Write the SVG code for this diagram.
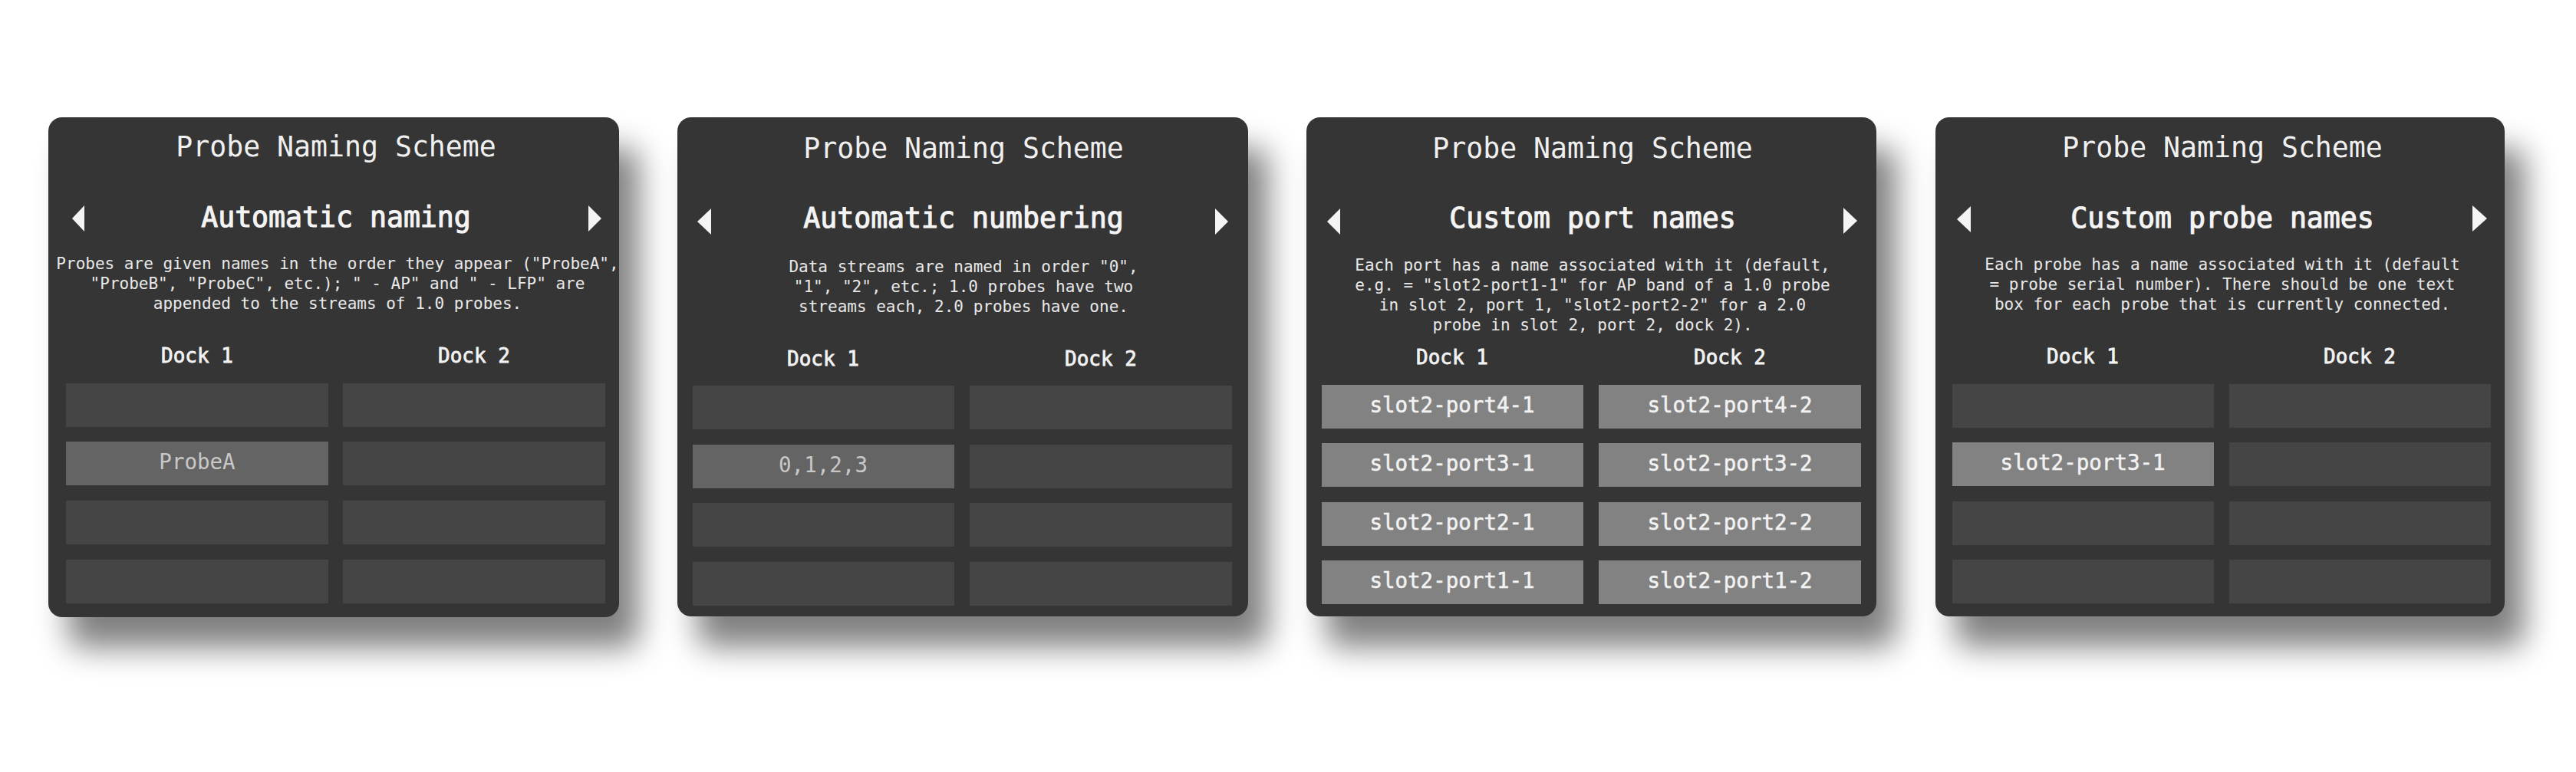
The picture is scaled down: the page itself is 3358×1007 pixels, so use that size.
<svg xmlns="http://www.w3.org/2000/svg" width="3358" height="1007" viewBox="0 0 3358 1007">
<style>
text{font-family:"DejaVu Sans Mono","Liberation Mono",monospace;text-anchor:middle}
.panel{fill:#363636}
.title{font-size:36.5px;fill:#f0f0f0}
.sub{font-size:36.5px;fill:#f4f4f4;stroke:#f4f4f4;stroke-width:1.1px}
.desc{font-size:21px;fill:#e8e8e8}
.dock{font-size:26px;fill:#f2f2f2;stroke:#f2f2f2;stroke-width:0.8px}
.box{fill:#454545}
.sel{fill:#646464}
.port{fill:#828282}
.t1{font-size:27.5px;fill:#c8c8c8}
.t2{font-size:27.5px;fill:#f2f2f2;stroke:#f2f2f2;stroke-width:0.5px}
.arrow{fill:#f4f4f4}
</style>
<defs>
<filter id="sh" x="-20%" y="-20%" width="150%" height="150%">
<feGaussianBlur in="SourceAlpha" stdDeviation="20"/>
<feOffset dx="26" dy="40" result="b"/>
<feComponentTransfer><feFuncA type="linear" slope="0.5"/></feComponentTransfer>
<feMerge><feMergeNode/><feMergeNode in="SourceGraphic"/></feMerge>
</filter>
</defs>
<rect width="3358" height="1007" fill="#ffffff"/>

<g id="panel-automatic-naming">
<rect class="panel" x="63" y="153" width="744" height="652" rx="18" filter="url(#sh)"/>
<text class="title" x="438" y="204">Probe Naming Scheme</text>
<polygon class="arrow" points="110,268 110,302 94,285"/>
<text class="sub" x="438" y="296">Automatic naming</text>
<polygon class="arrow" points="767,268 767,302 784,285"/>
<text class="desc" x="440" y="351">Probes are given names in the order they appear ("ProbeA",</text>
<text class="desc" x="440" y="377">"ProbeB", "ProbeC", etc.); " - AP" and " - LFP" are</text>
<text class="desc" x="440" y="403">appended to the streams of 1.0 probes.</text>
<text class="dock" x="257" y="473">Dock 1</text>
<text class="dock" x="618" y="473">Dock 2</text>
<rect class="box" x="86" y="500" width="342" height="57"/>
<rect class="box" x="447" y="500" width="342" height="57"/>
<rect class="sel" x="86" y="576" width="342" height="57"/>
<text class="t1" x="257" y="612">ProbeA</text>
<rect class="box" x="447" y="576" width="342" height="57"/>
<rect class="box" x="86" y="653" width="342" height="57"/>
<rect class="box" x="447" y="653" width="342" height="57"/>
<rect class="box" x="86" y="730" width="342" height="57"/>
<rect class="box" x="447" y="730" width="342" height="57"/>
</g>

<g id="panel-automatic-numbering">
<rect class="panel" x="883" y="153" width="744" height="651" rx="18" filter="url(#sh)"/>
<text class="title" x="1256" y="206">Probe Naming Scheme</text>
<polygon class="arrow" points="927,272 927,306 909,289"/>
<text class="sub" x="1256" y="297">Automatic numbering</text>
<polygon class="arrow" points="1584,272 1584,306 1601,289"/>
<text class="desc" x="1256" y="355">Data streams are named in order "0",</text>
<text class="desc" x="1256" y="381">"1", "2", etc.; 1.0 probes have two</text>
<text class="desc" x="1256" y="407">streams each, 2.0 probes have one.</text>
<text class="dock" x="1073" y="477">Dock 1</text>
<text class="dock" x="1435" y="477">Dock 2</text>
<rect class="box" x="903" y="503" width="341" height="57"/>
<rect class="box" x="1264" y="503" width="342" height="57"/>
<rect class="sel" x="903" y="580" width="341" height="57"/>
<text class="t1" x="1073" y="616">0,1,2,3</text>
<rect class="box" x="1264" y="580" width="342" height="57"/>
<rect class="box" x="903" y="656" width="341" height="57"/>
<rect class="box" x="1264" y="656" width="342" height="57"/>
<rect class="box" x="903" y="733" width="341" height="57"/>
<rect class="box" x="1264" y="733" width="342" height="57"/>
</g>

<g id="panel-custom-port-names">
<rect class="panel" x="1703" y="153" width="743" height="651" rx="18" filter="url(#sh)"/>
<text class="title" x="2076" y="206">Probe Naming Scheme</text>
<polygon class="arrow" points="1747,272 1747,306 1730,289"/>
<text class="sub" x="2076" y="297">Custom port names</text>
<polygon class="arrow" points="2403,271 2403,305 2421,288"/>
<text class="desc" x="2076" y="353">Each port has a name associated with it (default,</text>
<text class="desc" x="2076" y="379">e.g. = "slot2-port1-1" for AP band of a 1.0 probe</text>
<text class="desc" x="2076" y="405">in slot 2, port 1, "slot2-port2-2" for a 2.0</text>
<text class="desc" x="2076" y="431">probe in slot 2, port 2, dock 2).</text>
<text class="dock" x="1893" y="475">Dock 1</text>
<text class="dock" x="2255" y="475">Dock 2</text>
<rect class="port" x="1723" y="502" width="341" height="57"/>
<text class="t2" x="1893" y="538">slot2-port4-1</text>
<rect class="port" x="2084" y="502" width="342" height="57"/>
<text class="t2" x="2255" y="538">slot2-port4-2</text>
<rect class="port" x="1723" y="578" width="341" height="57"/>
<text class="t2" x="1893" y="614">slot2-port3-1</text>
<rect class="port" x="2084" y="578" width="342" height="57"/>
<text class="t2" x="2255" y="614">slot2-port3-2</text>
<rect class="port" x="1723" y="655" width="341" height="57"/>
<text class="t2" x="1893" y="691">slot2-port2-1</text>
<rect class="port" x="2084" y="655" width="342" height="57"/>
<text class="t2" x="2255" y="691">slot2-port2-2</text>
<rect class="port" x="1723" y="731" width="341" height="57"/>
<text class="t2" x="1893" y="767">slot2-port1-1</text>
<rect class="port" x="2084" y="731" width="342" height="57"/>
<text class="t2" x="2255" y="767">slot2-port1-2</text>
</g>

<g id="panel-custom-probe-names">
<rect class="panel" x="2523" y="153" width="742" height="651" rx="18" filter="url(#sh)"/>
<text class="title" x="2897" y="205">Probe Naming Scheme</text>
<polygon class="arrow" points="2569,269 2569,303 2551,286"/>
<text class="sub" x="2897" y="297">Custom probe names</text>
<polygon class="arrow" points="3223,268 3223,302 3242,285"/>
<text class="desc" x="2897" y="352">Each probe has a name associated with it (default</text>
<text class="desc" x="2897" y="378">= probe serial number). There should be one text</text>
<text class="desc" x="2897" y="404">box for each probe that is currently connected.</text>
<text class="dock" x="2715" y="474">Dock 1</text>
<text class="dock" x="3076" y="474">Dock 2</text>
<rect class="box" x="2545" y="501" width="341" height="57"/>
<rect class="box" x="2906" y="501" width="341" height="57"/>
<rect class="port" x="2545" y="577" width="341" height="57"/>
<text class="t2" x="2715" y="613">slot2-port3-1</text>
<rect class="box" x="2906" y="577" width="341" height="57"/>
<rect class="box" x="2545" y="654" width="341" height="57"/>
<rect class="box" x="2906" y="654" width="341" height="57"/>
<rect class="box" x="2545" y="730" width="341" height="57"/>
<rect class="box" x="2906" y="730" width="341" height="57"/>
</g>

<g id="connectors"></g>
</svg>
